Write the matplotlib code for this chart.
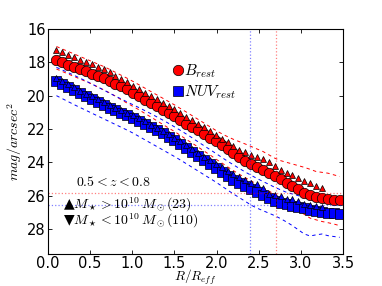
import numpy as np
import matplotlib
matplotlib.use("Agg")
import matplotlib.pyplot as plt

plt.rcParams["mathtext.fontset"] = "cm"
plt.rcParams["xtick.direction"] = "in"
plt.rcParams["ytick.direction"] = "in"

nan = np.nan

# radius grid R/Reff
r = [0.10, 0.17, 0.24, 0.31, 0.38, 0.45, 0.52, 0.59, 0.66, 0.73,
     0.80, 0.87, 0.94, 1.01, 1.08, 1.15, 1.22, 1.29, 1.36, 1.43,
     1.50, 1.57, 1.64, 1.71, 1.78, 1.85, 1.92, 1.99, 2.06, 2.13,
     2.20, 2.27, 2.34, 2.41, 2.48, 2.55, 2.62, 2.69, 2.76, 2.83,
     2.90, 2.97, 3.04, 3.11, 3.18, 3.25, 3.32, 3.39, 3.46]

# B_rest, all galaxies
b_all = [17.88, 18.01, 18.15, 18.28, 18.41, 18.55, 18.69, 18.83, 18.97, 19.12,
         19.28, 19.45, 19.63, 19.85, 20.05, 20.25, 20.45, 20.65, 20.85, 21.05,
         21.25, 21.47, 21.68, 21.88, 22.08, 22.30, 22.52, 22.75, 22.98, 23.22,
         23.46, 23.70, 23.92, 24.10, 24.28, 24.45, 24.62, 24.82, 25.03, 25.24,
         25.44, 25.63, 25.84, 25.98, 26.06, 26.13, 26.19, 26.24, 26.28]
# B_rest, massive galaxies (up triangles)
b_hi = [17.25, 17.40, 17.55, 17.70, 17.84, 17.98, 18.13, 18.28, 18.43, 18.60,
        18.80, 18.98, 19.18, 19.40, 19.62, 19.82, 20.02, 20.22, 20.42, 20.62,
        20.82, 21.05, 21.27, 21.48, 21.68, 21.90, 22.12, 22.35, 22.58, 22.80,
        23.04, 23.24, 23.38, 23.55, 23.68, 23.82, 24.00, 24.25, 24.48, 24.62,
        24.75, 24.95, 25.10, 25.25, 25.40, 25.52, nan, nan, nan]
b_up = [17.05, 17.20, 17.35, 17.50, 17.65, 17.80, 17.95, 18.10, 18.25, 18.42,
        18.60, 18.78, 18.96, 19.15, 19.35, 19.55, 19.75, 19.95, 20.15, 20.35,
        20.55, 20.77, 20.98, 21.20, 21.42, 21.64, 21.86, 22.08, 22.28, 22.46,
        22.62, 22.76, 22.90, 23.05, 23.20, 23.35, 23.55, 23.75, 23.90, 24.00,
        24.10, 24.20, 24.30, 24.42, 24.55, 24.60, 24.65, 24.75, 24.85]
b_lo = [18.40, 18.55, 18.70, 18.85, 19.00, 19.15, 19.30, 19.48, 19.65, 19.83,
        20.03, 20.25, 20.45, 20.65, 20.85, 21.07, 21.28, 21.50, 21.72, 21.94,
        22.15, 22.38, 22.62, 22.85, 23.08, 23.32, 23.55, 23.80, 24.03, 24.27,
        24.50, 24.72, 24.92, 25.12, 25.32, 25.52, 25.72, 25.92, 26.15, 26.40,
        26.65, 26.90, 27.12, 27.35, 27.45, 27.55, 27.62, 27.70, 27.80]

# NUV_rest
nuv_all = [19.12, 19.30, 19.48, 19.66, 19.85, 20.03, 20.20, 20.38, 20.55, 20.72,
           20.87, 21.02, 21.17, 21.33, 21.51, 21.70, 21.89, 22.07, 22.27, 22.48,
           22.69, 22.90, 23.13, 23.37, 23.62, 23.86, 24.10, 24.35, 24.58, 24.81,
           25.04, 25.27, 25.45, 25.62, 25.80, 25.98, 26.16, 26.34, 26.45, 26.53,
           26.61, 26.68, 26.76, 26.84, 26.91, 26.97, 27.02, 27.07, 27.12]
nuv_hi = [18.97, 19.15, 19.33, 19.51, 19.70, 19.88, 20.05, 20.23, 20.40, 20.57,
          20.72, 20.87, 21.02, 21.18, 21.36, 21.55, 21.74, 21.92, 22.12, 22.33,
          22.54, 22.75, 22.97, 23.20, 23.44, 23.66, 23.88, 24.10, 24.30, 24.50,
          24.70, 24.90, 25.08, 25.22, 25.33, 25.55, 25.90, 25.98, 26.05, 26.20,
          26.22, 26.35, 26.48, 26.55, 26.62, 26.70, nan, nan, nan]
nuv_up = [18.30, 18.46, 18.62, 18.78, 18.95, 19.12, 19.30, 19.48, 19.66, 19.85,
          20.03, 20.20, 20.38, 20.55, 20.72, 20.90, 21.08, 21.27, 21.46, 21.66,
          21.87, 22.08, 22.30, 22.53, 22.77, 23.00, 23.23, 23.46, 23.70, 23.93,
          24.15, 24.37, 24.58, 24.78, 24.97, 25.15, 25.32, 25.50, 25.65, 25.80,
          25.90, 26.00, 26.10, 26.18, 26.25, 26.30, 26.35, 26.40, 26.45]
nuv_lo = [20.00, 20.18, 20.36, 20.54, 20.71, 20.88, 21.05, 21.22, 21.39, 21.56,
          21.73, 21.90, 22.07, 22.25, 22.45, 22.65, 22.85, 23.05, 23.25, 23.45,
          23.65, 23.86, 24.08, 24.30, 24.52, 24.74, 24.96, 25.18, 25.42, 25.66,
          25.90, 26.12, 26.34, 26.57, 26.75, 26.90, 27.05, 27.20, 27.38, 27.58,
          27.80, 28.05, 28.30, 28.42, 28.35, 28.30, 28.40, 28.45, 28.50]

# surface brightness limits and radii where they are reached
lim_b, lim_nuv = 25.85, 26.57
rlim_b, rlim_nuv = 2.7, 2.4

fig = plt.figure(figsize=(3.82, 2.86), dpi=100)
ax = fig.add_axes([0.1257, 0.1119, 0.7723, 0.7867])

for ys, c in [(b_up, "red"), (b_lo, "red"), (nuv_up, "blue"), (nuv_lo, "blue")]:
    ax.plot(r, ys, "--", color=c, lw=0.7, dashes=(3.5, 3.5))

ax.plot(r, b_all, "o", color="red", mec="black", mew=0.5, ms=7.5, label=r"$B_{rest}$")
ax.plot(r, b_hi, "^", color="red", mec="black", mew=0.5, ms=4.5)
ax.plot(r, nuv_all, "s", color="blue", mec="black", mew=0.5, ms=7, label=r"$NUV_{rest}$")
ax.plot(r, nuv_hi, "^", color="blue", mec="black", mew=0.5, ms=4.5)

ax.axhline(lim_b, color="red", ls=":", lw=0.9, alpha=0.5)
ax.axhline(lim_nuv, color="blue", ls=":", lw=0.9, alpha=0.5)
ax.axvline(rlim_b, color="red", ls=":", lw=0.9, alpha=0.5)
ax.axvline(rlim_nuv, color="blue", ls=":", lw=0.9, alpha=0.5)

ax.text(0.33, 25.45, r"$0.5<z<0.8$", fontsize=10)
ax.text(0.18, 26.75, "\u25B2" + r"$M_\star>10^{10}\,M_\odot(23)$", fontsize=10)
ax.text(0.18, 27.75, "\u25BC" + r"$M_\star<10^{10}\,M_\odot(110)$", fontsize=10)

ax.set_xlim(0, 3.5)
ax.set_ylim(29.5, 16)
ax.set_xticks([0.0, 0.5, 1.0, 1.5, 2.0, 2.5, 3.0, 3.5])
ax.set_yticks([16, 18, 20, 22, 24, 26, 28])
ax.tick_params(labelsize=10.5, top=True, right=True, length=3, width=0.6, pad=1.5)
ax.set_xlabel(r"$R/R_{eff}$", fontsize=9.5, labelpad=-2)
ax.set_ylabel(r"$mag/arcsec^2$", fontsize=10, labelpad=2)
ax.legend(loc="upper left", bbox_to_anchor=(0.39, 0.90), frameon=False, fontsize=11,
          handlelength=0.6, handletextpad=0.1, borderpad=0.2, labelspacing=0.25, numpoints=1)

fig.savefig("out.png", dpi=100)
